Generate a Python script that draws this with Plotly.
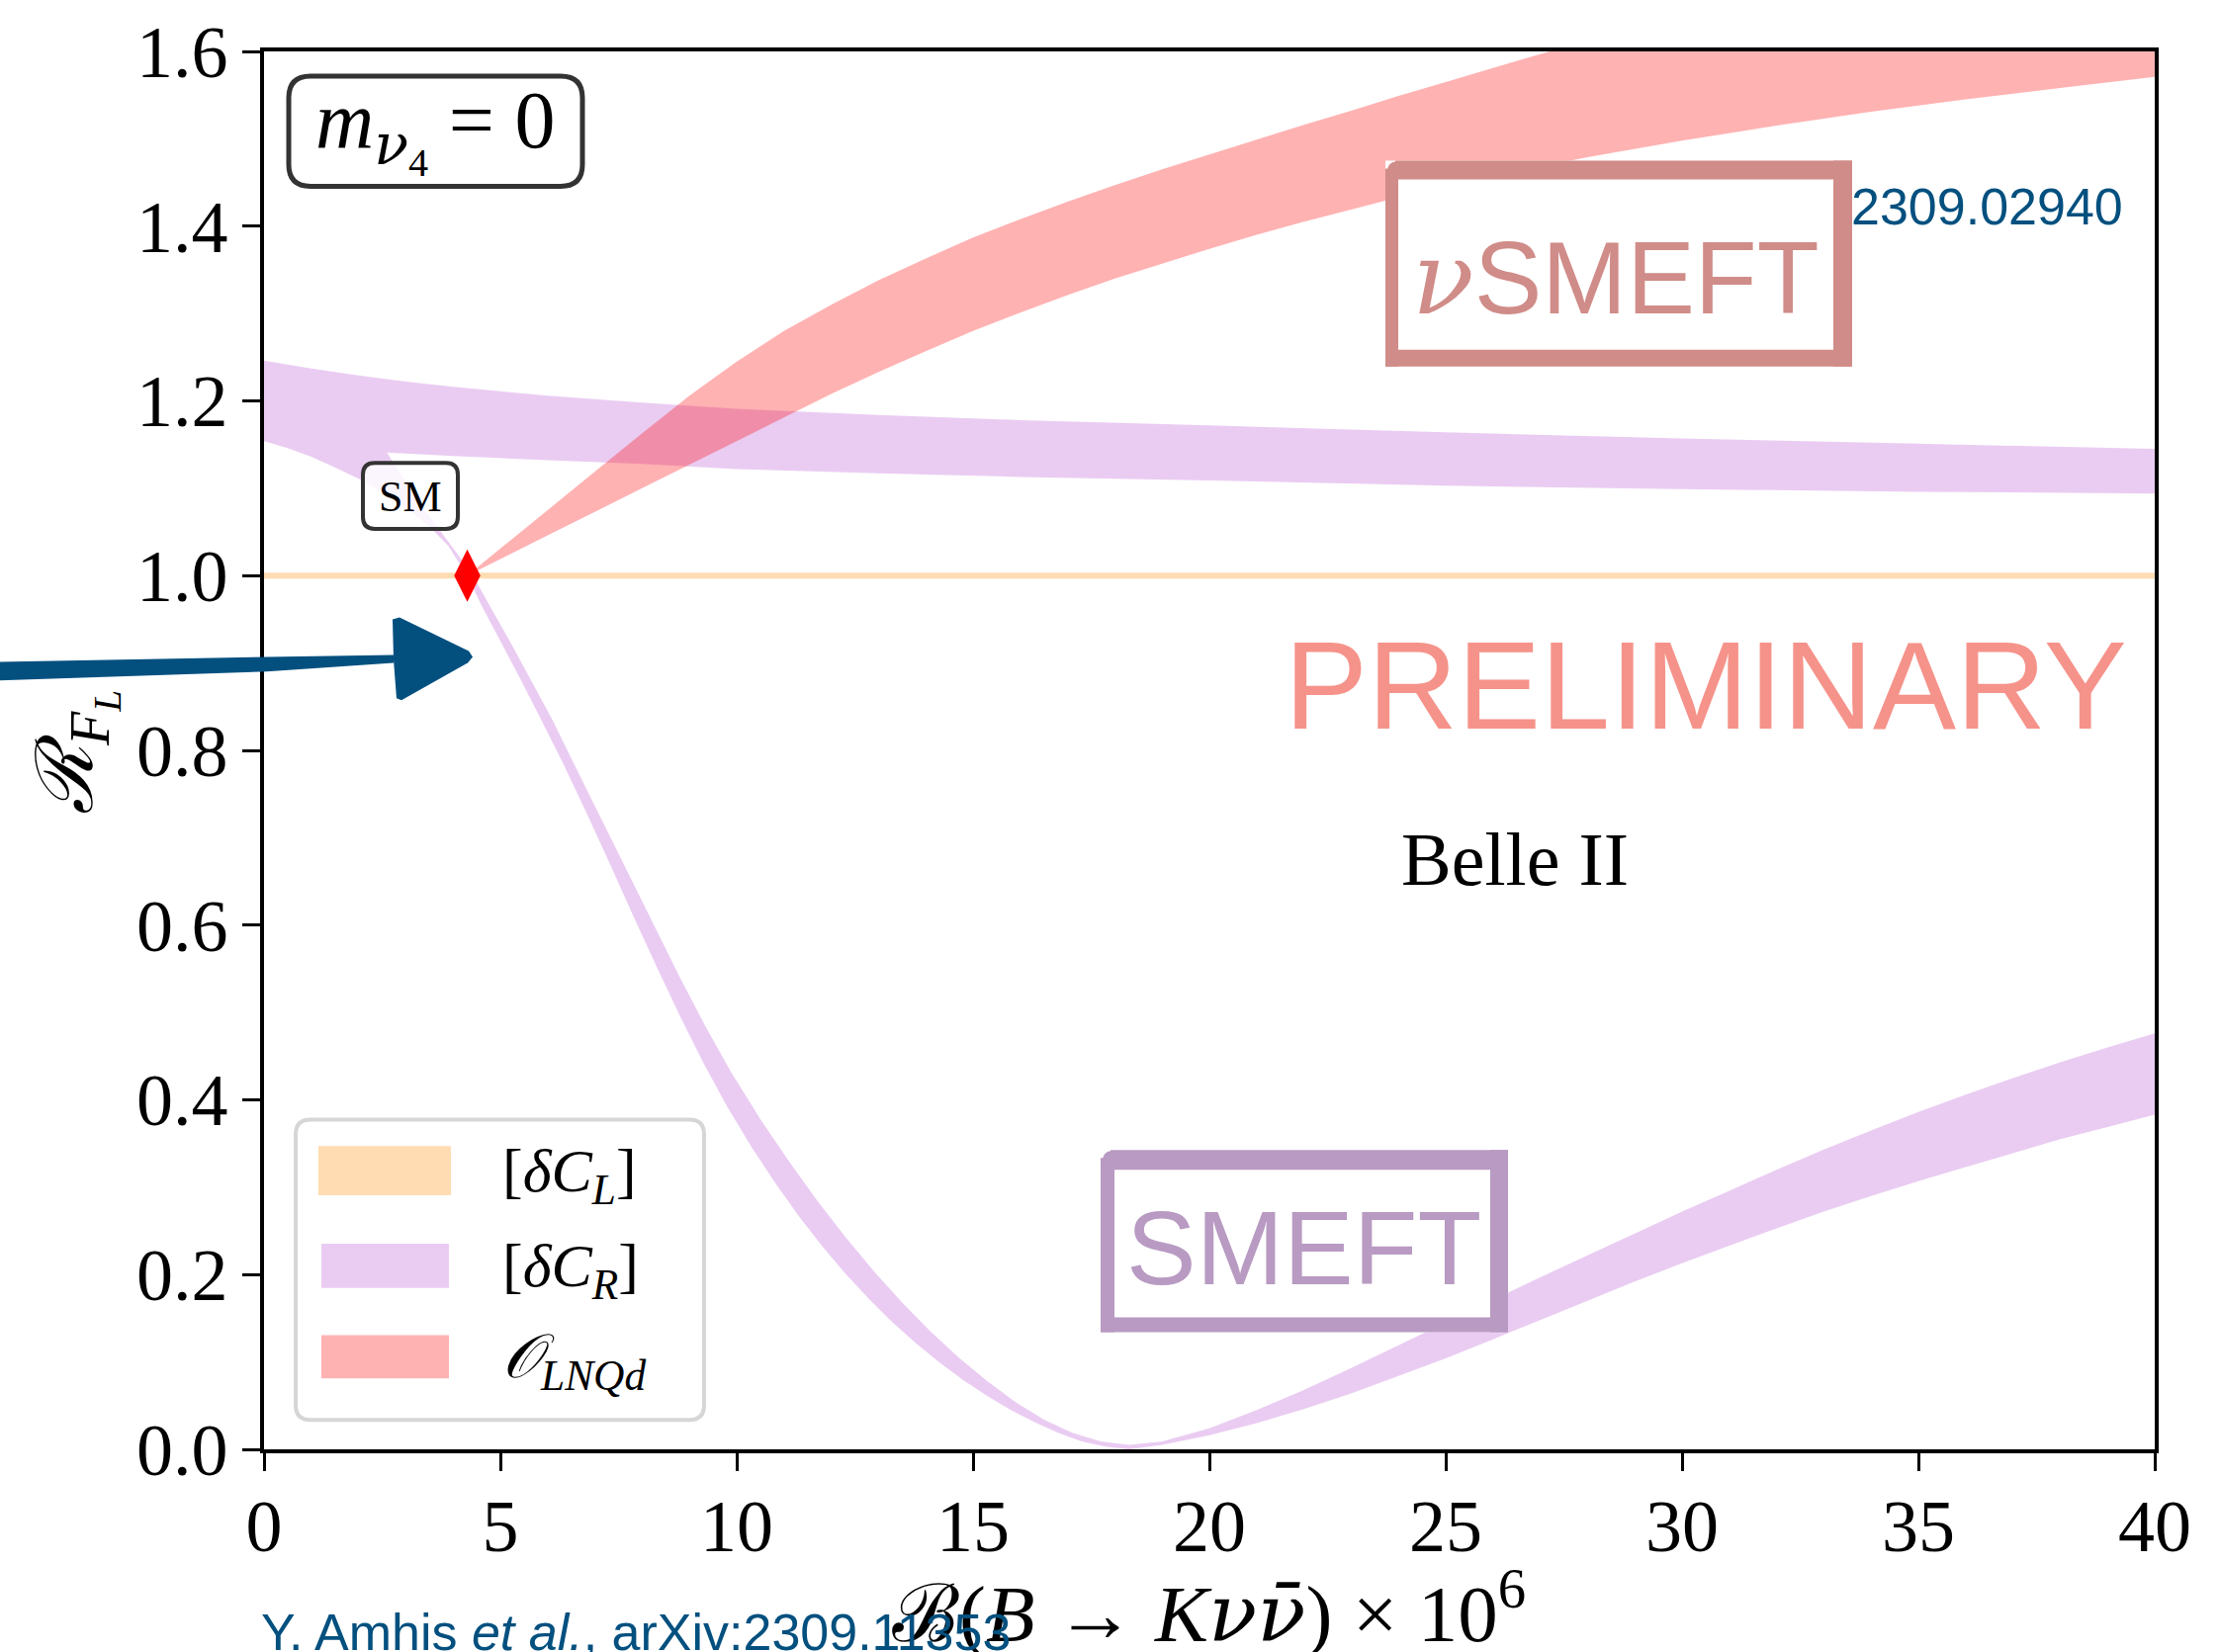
import plotly.graph_objects as go

# ---------------------------------------------------------------- data
# SM reference point
sm_x = [4.3]
sm_y = [1.0]

# [dC_L] : stays on R_FL = 1 (thin band)
cl_x = [0, 40, 40, 0]
cl_y = [0.9965, 0.9965, 1.0035, 1.0035]

# [dC_R] band, outer boundary: top edge of the upper branch (right -> left),
# then down the left edge of the falling branch, along the bottom and up the
# lower edge of the rising branch
cr_outer_x = [40, 35, 30, 25, 20, 16, 13, 10, 8, 6, 5, 4, 3, 2, 1, 0,
              0, 0.5, 1.0, 1.5, 2.0, 2.5, 3.0, 3.5, 3.9, 4.3,
              4.6, 5.0, 5.4, 5.8, 6.3, 6.8, 7.3, 7.8, 8.3, 8.8, 9.3, 9.8,
              10.3, 10.8, 11.3, 11.8, 12.3, 12.8, 13.3, 13.8, 14.3, 14.8,
              15.3, 15.8, 16.3, 16.8, 17.3, 17.8, 18.3,
              19, 20, 21, 22, 23, 24, 25, 26, 27, 28, 29, 30, 31, 32, 33,
              34, 35, 36, 37, 38, 39, 40]
cr_outer_y = [1.145, 1.151, 1.157, 1.164, 1.172, 1.178, 1.184, 1.191, 1.198,
              1.206, 1.211, 1.216, 1.222, 1.229, 1.237, 1.246,
              1.154, 1.146, 1.136, 1.124, 1.111, 1.096, 1.078, 1.056, 1.034,
              1.0,
              0.966, 0.925, 0.884, 0.842, 0.788, 0.731, 0.672, 0.612, 0.553,
              0.496, 0.442, 0.392, 0.347, 0.306, 0.268, 0.233, 0.201, 0.172,
              0.145, 0.121, 0.099, 0.079, 0.061, 0.045, 0.031, 0.019, 0.009,
              0.003, 0.0,
              0.005, 0.016, 0.030, 0.046, 0.064, 0.084, 0.104, 0.126, 0.148,
              0.170, 0.192, 0.213, 0.233, 0.253, 0.272, 0.290, 0.307, 0.323,
              0.339, 0.355, 0.369, 0.383]
# inner boundary: lower edge of the upper branch (right -> left) to its
# corner, then the right edge of the falling branch and the upper edge of
# the rising branch
cr_inner_x = [40, 35, 30, 25, 20, 16, 13, 10, 8, 6, 4, 2.6,
              3.0, 3.4, 3.8, 4.1, 4.4,
              4.75, 5.2, 5.65, 6.1, 6.6, 7.15, 7.7, 8.25, 8.8, 9.35, 9.9,
              10.5, 11.1, 11.7, 12.3, 12.9, 13.5, 14.1, 14.7, 15.3, 15.9,
              16.5, 17.1, 17.7, 18.3,
              19, 20, 21, 22, 23, 24, 25, 26, 27, 28, 29, 30, 31, 32, 33,
              34, 35, 36, 37, 38, 39, 40]
cr_inner_y = [1.094, 1.096, 1.099, 1.103, 1.109, 1.113, 1.117, 1.122, 1.128,
              1.132, 1.137, 1.141,
              1.107, 1.075, 1.046, 1.024, 1.002,
              0.968, 0.925, 0.880, 0.835, 0.780, 0.720, 0.660, 0.600, 0.540,
              0.483, 0.430, 0.378, 0.330, 0.285, 0.243, 0.204, 0.168, 0.135,
              0.105, 0.078, 0.054, 0.034, 0.019, 0.009, 0.005,
              0.009, 0.024, 0.045, 0.068, 0.093, 0.119, 0.145, 0.171, 0.197,
              0.222, 0.247, 0.272, 0.296, 0.320, 0.343, 0.365, 0.386, 0.406,
              0.425, 0.443, 0.460, 0.476]

# O_LNQd band edges, opening from the SM point
lnqd_upper_x = [4.3, 5, 6, 7, 8, 9, 10, 11, 12, 13, 14, 15, 16, 17, 18, 19,
                20, 21, 22, 23, 24, 25, 26, 27, 27.2, 40]
lnqd_upper_y = [1.0, 1.031, 1.075, 1.119, 1.163, 1.206, 1.245, 1.280, 1.310,
                1.338, 1.363, 1.387, 1.408, 1.428, 1.447, 1.465, 1.482, 1.499,
                1.516, 1.532, 1.549, 1.565, 1.581, 1.597, 1.6, 1.6]
lnqd_lower_x = [4.3, 5, 6, 7, 8, 9, 10, 11, 12, 13, 14, 15, 16, 17, 18, 19,
                20, 21, 22, 23, 24, 26, 28, 30, 32, 34, 36, 38, 40]
lnqd_lower_y = [1.0, 1.019, 1.046, 1.073, 1.100, 1.127, 1.154, 1.181, 1.208,
                1.233, 1.257, 1.280, 1.301, 1.321, 1.340, 1.357, 1.374, 1.390,
                1.405, 1.419, 1.433, 1.457, 1.479, 1.498, 1.515, 1.531, 1.545,
                1.558, 1.571]

x_ticks = [0, 5, 10, 15, 20, 25, 30, 35, 40]
y_ticks = [0.0, 0.2, 0.4, 0.6, 0.8, 1.0, 1.2, 1.4, 1.6]

legend_labels = ["[<i>δC</i><sub><i>L</i></sub>]",
                 "[<i>δC</i><sub><i>R</i></sub>]",
                 "<i>𝒪</i><sub><i>LNQd</i></sub>"]

# ---------------------------------------------------------------- styling
C_ORANGE = "rgba(255,140,0,0.3)"
C_PURPLE = "rgba(186,85,211,0.3)"
C_RED = "rgba(255,0,0,0.3)"
BLUE = "#03507f"
SERIF = "Liberation Serif, DejaVu Serif, serif"
SANS = "Liberation Sans, Arial, sans-serif"
NU = "<span style='font-family:DejaVu Serif'><i>ν</i></span>"
NUBAR = "<span style='font-family:DejaVu Serif'><i>ν̄</i></span>"

W, H = 2245, 1671
ML, MR, MT, MB = 267, 66, 46, 205
PW, PH = W - ML - MR, H - MT - MB


def fx(X):
    """figure pixel column -> paper x"""
    return (X - ML) / PW


def fy(Y):
    """figure pixel row (from top) -> paper y"""
    return (H - MB - Y) / PH


def rounded_box(x0, y0, x1, y1, r):
    X0, X1, Y0, Y1 = fx(x0), fx(x1), fy(y0), fy(y1)
    rx, ry = r / PW, r / PH
    return (f"M{X0+rx},{Y0} L{X1-rx},{Y0} Q{X1},{Y0} {X1},{Y0-ry} "
            f"L{X1},{Y1+ry} Q{X1},{Y1} {X1-rx},{Y1} L{X0+rx},{Y1} "
            f"Q{X0},{Y1} {X0},{Y1+ry} L{X0},{Y0-ry} Q{X0},{Y0} {X0+rx},{Y0} Z")


def poly(points):
    pts = [f"{fx(a)},{fy(b)}" for a, b in points]
    return "M" + " L".join(pts) + " Z"


fig = go.Figure()

fig.add_trace(go.Scatter(x=cl_x, y=cl_y, fill="toself", fillcolor=C_ORANGE,
                         mode="none", hoverinfo="skip"))
fig.add_trace(go.Scatter(x=cr_outer_x + cr_inner_x[::-1],
                         y=cr_outer_y + cr_inner_y[::-1],
                         fill="toself", fillcolor=C_PURPLE, mode="none",
                         hoverinfo="skip"))
fig.add_trace(go.Scatter(x=lnqd_upper_x + lnqd_lower_x[::-1],
                         y=lnqd_upper_y + lnqd_lower_y[::-1],
                         fill="toself", fillcolor=C_RED, mode="none",
                         hoverinfo="skip"))
fig.add_trace(go.Scatter(x=sm_x, y=sm_y, mode="markers",
                         marker=dict(symbol="diamond-tall", size=38,
                                     color="#ff0000", line=dict(width=0)),
                         hoverinfo="skip"))

shapes = []
annotations = []

# m_nu4 = 0 box
shapes.append(dict(type="path", xref="paper", yref="paper",
                   path=rounded_box(292, 71, 589, 183, 22),
                   line=dict(color="#333333", width=5),
                   fillcolor="rgba(255,255,255,0.85)", layer="above"))
annotations.append(dict(x=fx(440), y=fy(126), xref="paper", yref="paper",
                        text=f"<i>m</i><sub>{NU}<sub>4</sub></sub> = 0",
                        font=dict(family=SERIF, size=82, color="black"),
                        showarrow=False, xanchor="center", yanchor="middle"))

# SM label box
shapes.append(dict(type="path", xref="paper", yref="paper",
                   path=rounded_box(367, 464, 463, 531, 12),
                   line=dict(color="#333333", width=4),
                   fillcolor="rgba(255,255,255,0.8)", layer="above"))
annotations.append(dict(x=fx(415), y=fy(498), xref="paper", yref="paper",
                        text="SM",
                        font=dict(family=SERIF, size=44, color="black"),
                        showarrow=False, xanchor="center", yanchor="middle"))

# legend
shapes.append(dict(type="path", xref="paper", yref="paper",
                   path=rounded_box(299, 1131, 712, 1436, 15),
                   line=dict(color="#d6d6d6", width=4),
                   fillcolor="rgba(255,255,255,0.8)", layer="above"))
legend_patches = [(322, 1158, 456, 1208), (325, 1257, 454, 1302),
                  (325, 1350, 454, 1394)]
legend_colors = [C_ORANGE, C_PURPLE, C_RED]
for (a, b, c, d), col, lab in zip(legend_patches, legend_colors, legend_labels):
    shapes.append(dict(type="rect", xref="paper", yref="paper",
                       x0=fx(a), x1=fx(c), y0=fy(d), y1=fy(b),
                       fillcolor=col, line=dict(width=0), layer="above"))
    annotations.append(dict(x=fx(506), y=fy((b + d) / 2 + 4), xref="paper",
                            yref="paper", text=lab,
                            font=dict(family=SERIF, size=62, color="black"),
                            showarrow=False, xanchor="left", yanchor="middle"))


def logo(x0, y0, x1, y1, top, bottom, left, right, color):
    out = [dict(type="rect", xref="paper", yref="paper",
                x0=fx(x0), x1=fx(x1), y0=fy(y1), y1=fy(y0),
                fillcolor="white", line=dict(width=0), layer="above")]
    strokes = [(x0 + 10, y0, x1, y0 + top), (x0, y1 - bottom, x1, y1),
               (x0, y0 + 8, x0 + left, y1), (x1 - right, y0, x1, y1)]
    for a, b, c, d in strokes:
        out.append(dict(type="rect", xref="paper", yref="paper",
                        x0=fx(a), x1=fx(c), y0=fy(d), y1=fy(b),
                        fillcolor=color, line=dict(width=0), layer="above"))
    # rounded start of the top brush stroke
    out.append(dict(type="circle", xref="paper", yref="paper",
                    x0=fx(x0 + 2), x1=fx(x0 + 18), y0=fy(y0 + top),
                    y1=fy(y0 + 1), fillcolor=color, line=dict(width=0),
                    layer="above"))
    return out


NU_COL = "#d08c88"
SMEFT_COL = "#b89ac2"
shapes += logo(1401, 157, 1873, 366, 19, 17, 13, 19, NU_COL)
shapes += logo(1113, 1162, 1525, 1347, 20, 15, 14, 18, SMEFT_COL)
annotations.append(dict(x=fx(1634), y=fy(276), xref="paper", yref="paper",
                        text=f"{NU}SMEFT",
                        font=dict(family=SANS, size=103, color=NU_COL),
                        showarrow=False, xanchor="center", yanchor="middle"))
annotations.append(dict(x=fx(1318), y=fy(1261), xref="paper", yref="paper",
                        text="SMEFT",
                        font=dict(family=SANS, size=106, color=SMEFT_COL),
                        showarrow=False, xanchor="center", yanchor="middle"))

# watermark / captions
annotations.append(dict(x=fx(1725), y=fy(690), xref="paper", yref="paper",
                        text="PRELIMINARY",
                        font=dict(family=SANS, size=126, color="#f5938a"),
                        showarrow=False, xanchor="center", yanchor="middle"))
annotations.append(dict(x=fx(1532), y=fy(866), xref="paper", yref="paper",
                        text="Belle II",
                        font=dict(family=SERIF, size=76, color="black"),
                        showarrow=False, xanchor="center", yanchor="middle"))
annotations.append(dict(x=fx(1870), y=fy(204), xref="paper", yref="paper",
                        text="2309.02940",
                        font=dict(family=SANS, size=52, color=BLUE),
                        showarrow=False, xanchor="left", yanchor="middle"))

# axis titles
annotations.append(dict(x=fx(1222), y=fy(1628), xref="paper", yref="paper",
                        text=(f"ℬ(<i>B</i> → <i>K</i>{NU}{NUBAR}) × "
                              "10<sup>6</sup>"),
                        font=dict(family=SERIF, size=81, color="black"),
                        showarrow=False, xanchor="center", yanchor="middle"))
annotations.append(dict(x=fx(262), y=fy(1652), xref="paper", yref="paper",
                        text="Y. Amhis <i>et al.</i>, arXiv:2309.11353",
                        font=dict(family=SANS, size=52, color=BLUE),
                        showarrow=False, xanchor="left", yanchor="middle"))
annotations.append(dict(x=fx(76), y=fy(758), xref="paper", yref="paper",
                        text="<i>ℛ</i><sub><i>F</i><sub><i>L</i></sub></sub>",
                        textangle=-90,
                        font=dict(family=SERIF, size=80, color="black"),
                        showarrow=False, xanchor="center", yanchor="middle"))

# pointer arrow towards the SM point
shapes.append(dict(type="path", xref="paper", yref="paper",
                   path=poly([(0, 666), (270, 661), (398, 659), (398, 667),
                              (270, 676), (0, 685)]),
                   fillcolor=BLUE, line=dict(width=0), layer="above"))
shapes.append(dict(type="path", xref="paper", yref="paper",
                   path=poly([(397, 623), (404, 621), (474, 655), (478, 661),
                              (473, 667), (406, 705), (401, 703), (398, 664)]),
                   fillcolor=BLUE, line=dict(width=0), layer="above"))

axis_common = dict(showline=True, linecolor="black", linewidth=3.5,
                   mirror=True, ticks="outside", ticklen=18, tickwidth=3,
                   tickcolor="black", showgrid=False, zeroline=False,
                   tickfont=dict(family=SERIF, size=74, color="black"))

fig.update_layout(
    width=W, height=H,
    margin=dict(l=ML, r=MR, t=MT, b=MB),
    paper_bgcolor="white", plot_bgcolor="white",
    showlegend=False, hovermode=False,
    shapes=shapes, annotations=annotations,
    xaxis=dict(range=[0, 40], tickvals=x_ticks,
               ticktext=[str(v) for v in x_ticks], ticklabelstandoff=-8,
               **axis_common),
    yaxis=dict(range=[0, 1.6], tickvals=y_ticks,
               ticktext=[f"{v:.1f}" for v in y_ticks], ticklabelstandoff=0,
               **axis_common),
)

fig.write_html("out.html")
